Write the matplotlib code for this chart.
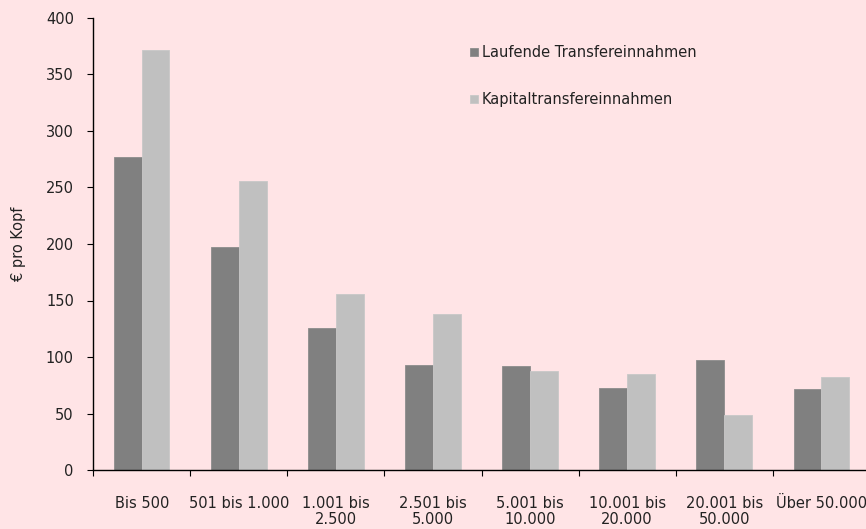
import matplotlib
matplotlib.use("Agg")
import matplotlib.pyplot as plt
import numpy as np

categories = ["Bis 500", "501 bis 1.000", "1.001 bis\n2.500", "2.501 bis\n5.000",
              "5.001 bis\n10.000", "10.001 bis\n20.000", "20.001 bis\n50.000", "Über 50.000"]
laufende = [277, 197, 126, 93, 92, 73, 97, 72]
kapital = [372, 256, 156, 138, 88, 85, 49, 82]
series_names = ["Laufende Transfereinnahmen", "Kapitaltransfereinnahmen"]
yticks = [0, 50, 100, 150, 200, 250, 300, 350, 400]

plt.rcParams["font.family"] = ["DejaVu Sans"]
bg = "#FFE4E6"
fs = 10.5

fig = plt.figure(figsize=(8.66, 5.29), dpi=100, facecolor=bg)
W, H = 866, 529
x0, x1 = 93.3, 869.7
y0, y1 = 470, 18
ax = fig.add_axes([x0 / W, 1 - y0 / H, (x1 - x0) / W, (y0 - y1) / H])
ax.set_facecolor(bg)

n = len(categories)
x = np.arange(n)
bw = 0.285
ax.bar(x - bw / 2, laufende, bw, color="#808080", edgecolor="#8c8c8c", linewidth=0.6,
       label=series_names[0], zorder=2)
ax.bar(x + bw / 2, kapital, bw, color="#C0C0C0", edgecolor="#c8c8c8", linewidth=0.6,
       label=series_names[1], zorder=2)

ax.set_xlim(-0.5, n - 0.5)
ax.set_ylim(0, 400)
ax.set_yticks(yticks)
ax.tick_params(axis="y", direction="out", length=4, width=0.8, labelsize=fs, pad=10)
for lbl in ax.get_yticklabels():
    lbl.set_color("#222222")

# boundaries carry tick marks, category centres carry the labels
ax.set_xticks(np.arange(n + 1) - 0.5)
ax.set_xticklabels([])
ax.tick_params(axis="x", which="major", direction="out", length=4, width=0.8)
ax.set_xticks(x, minor=True)
ax.set_xticklabels(categories, minor=True, fontsize=fs, color="#222222", linespacing=1.05)
ax.tick_params(axis="x", which="minor", length=0, pad=19)

for s in ["top", "right"]:
    ax.spines[s].set_visible(False)
for s in ["left", "bottom"]:
    ax.spines[s].set_linewidth(1.0)
    ax.spines[s].set_color("black")

ax.set_ylabel("€ pro Kopf", fontsize=fs, color="#222222", labelpad=14)

leg = fig.legend(loc="upper left", bbox_to_anchor=(457 / W, 1 - 32 / H), frameon=False,
                 fontsize=fs, handlelength=0.55, handleheight=0.55, handletextpad=0.25,
                 labelspacing=2.2, labelcolor="#222222")

fig.savefig("out.png", dpi=100, facecolor=bg)
